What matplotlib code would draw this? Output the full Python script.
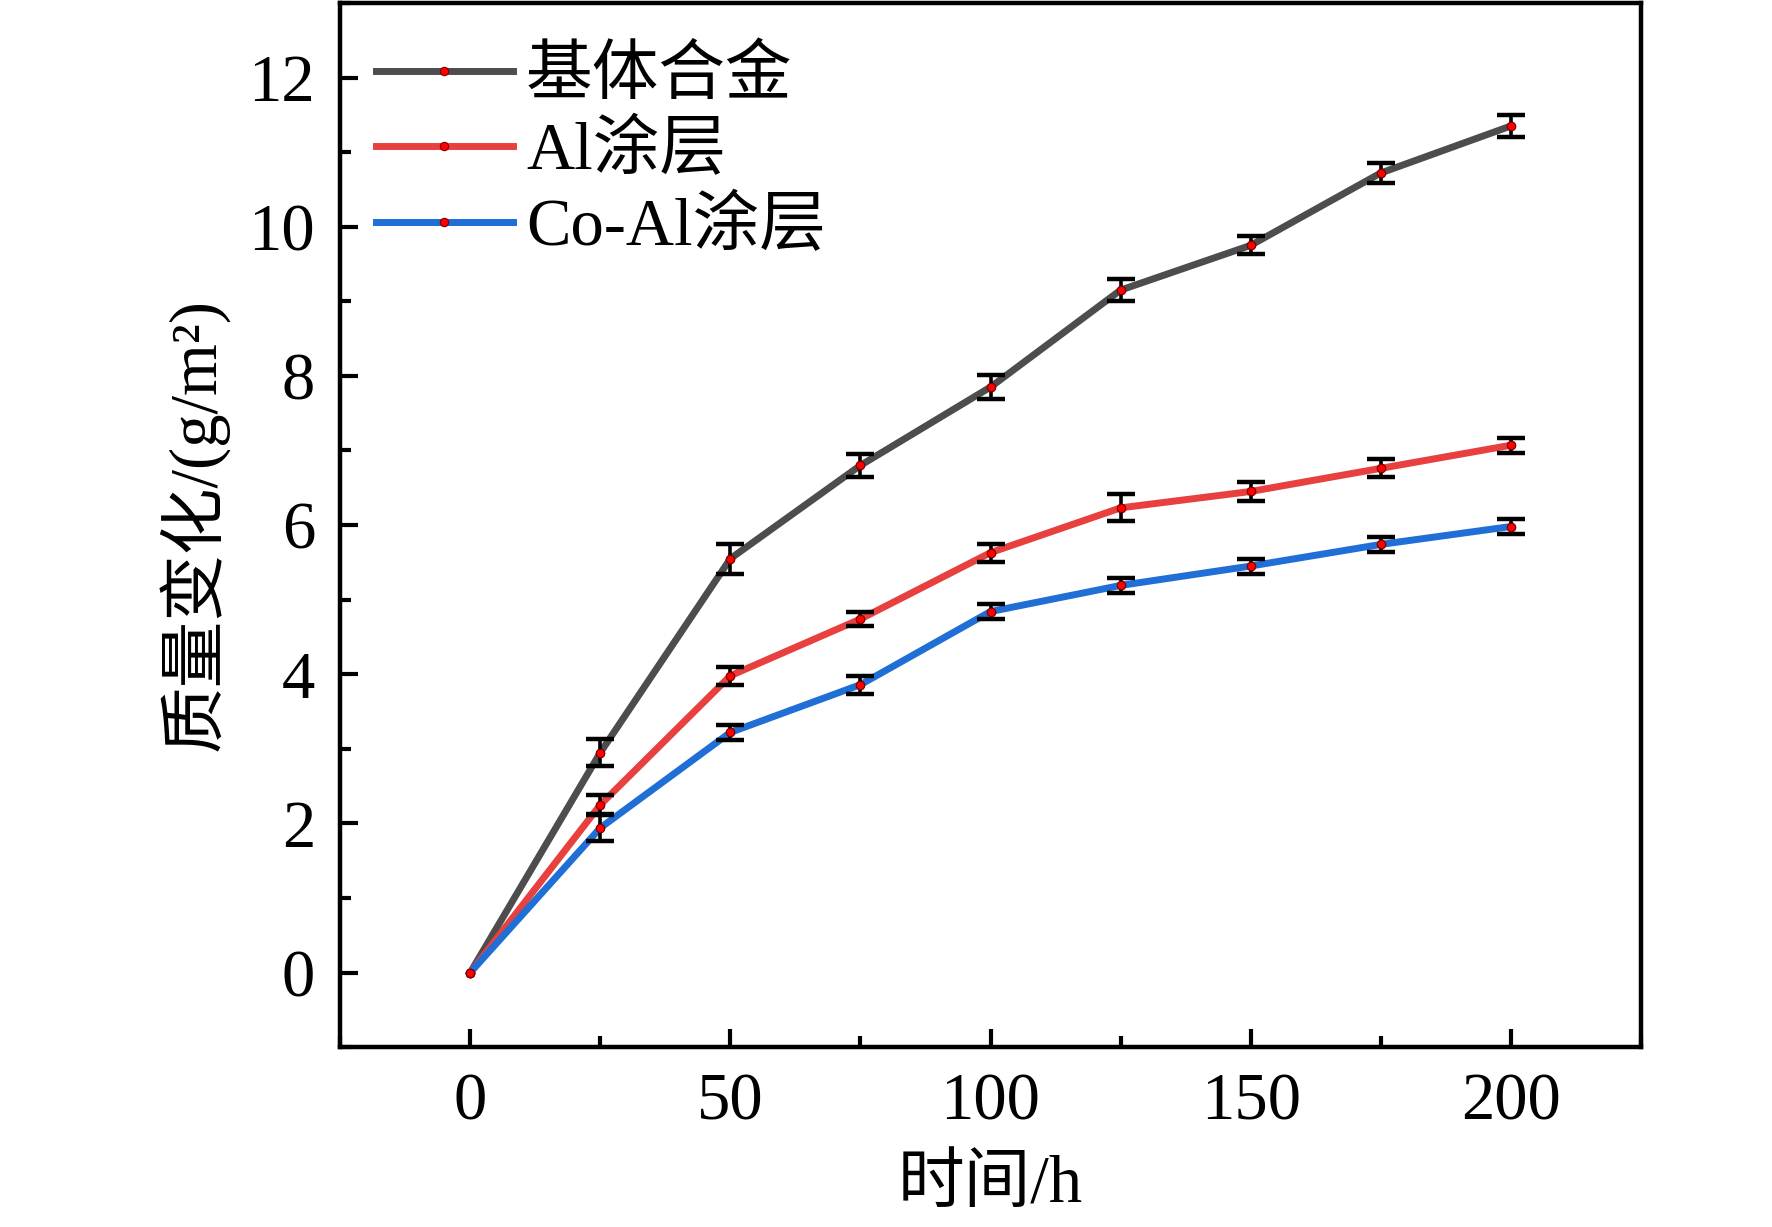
import numpy as np
import matplotlib
matplotlib.use("Agg")
import matplotlib.pyplot as plt
from matplotlib.ticker import MultipleLocator

plt.rcParams['font.family'] = ['Liberation Serif', 'Noto Sans CJK SC']

# --- data ---
time_h = [0, 25, 50, 75, 100, 125, 150, 175, 200]

base_alloy = [0, 2.95, 5.55, 6.80, 7.85, 9.15, 9.75, 10.72, 11.35]
base_err = [0.0, 0.18, 0.20, 0.15, 0.16, 0.15, 0.12, 0.14, 0.15]

al_coat = [0, 2.25, 3.98, 4.74, 5.63, 6.23, 6.45, 6.76, 7.07]
al_err = [0.0, 0.13, 0.12, 0.10, 0.12, 0.18, 0.13, 0.12, 0.10]

coal_coat = [0, 1.94, 3.22, 3.86, 4.84, 5.19, 5.45, 5.74, 5.98]
coal_err = [0.0, 0.17, 0.10, 0.12, 0.10, 0.10, 0.10, 0.10, 0.10]

names = ['基体合金', 'Al涂层', 'Co-Al涂层']
colors = ['#4d4d4d', '#e8403f', '#1f6fd6']

series = [(base_alloy, base_err), (al_coat, al_err), (coal_coat, coal_err)]

fig = plt.figure(figsize=(17.72, 12.27), dpi=100)
ax = fig.add_axes([0.192, 0.1466, 0.734, 0.851])

handles = []
for (vals, errs), name, c in zip(series, names, colors):
    h, = ax.plot(time_h, vals, color=c, lw=5, marker='o', ms=6,
                 mfc='red', mec='#800000', mew=0.8, label=name, zorder=2)
    handles.append(h)
    # no bar at t=0 (zero error)
    x_e = [t for t, e in zip(time_h, errs) if e > 0]
    y_e = [v for v, e in zip(vals, errs) if e > 0]
    e_e = [e for e in errs if e > 0]
    ax.errorbar(x_e, y_e, yerr=e_e, fmt='none', ecolor='black',
                elinewidth=2.6, capsize=10, capthick=3.2, zorder=3)
    ax.plot(time_h, vals, ls='none', marker='o', ms=6, mfc='red',
            mec='#800000', mew=0.8, zorder=4)

ax.set_xlim(-25, 225)
ax.set_ylim(-1, 13)
ax.xaxis.set_major_locator(MultipleLocator(50))
ax.xaxis.set_minor_locator(MultipleLocator(25))
ax.yaxis.set_major_locator(MultipleLocator(2))
ax.yaxis.set_minor_locator(MultipleLocator(1))

ax.tick_params(which='both', direction='in', width=3, labelsize=48)
ax.tick_params(which='major', length=13)
ax.tick_params(which='minor', length=8)
ax.tick_params(axis='x', which='major', pad=18)
ax.tick_params(axis='y', which='major', pad=18)
for sp in ax.spines.values():
    sp.set_linewidth(3.2)

ax.set_xlabel('时间/h', fontsize=48, labelpad=16)
ax.set_ylabel('质量变化/(g/m²)', fontsize=48, labelpad=14)

ax.legend(handles=handles, loc='upper left', frameon=False, fontsize=48,
          handlelength=2.05, handletextpad=0.2, labelspacing=0.2,
          borderaxespad=0.0, bbox_to_anchor=(0.007, 0.984))

fig.savefig('out.png', dpi=100)
